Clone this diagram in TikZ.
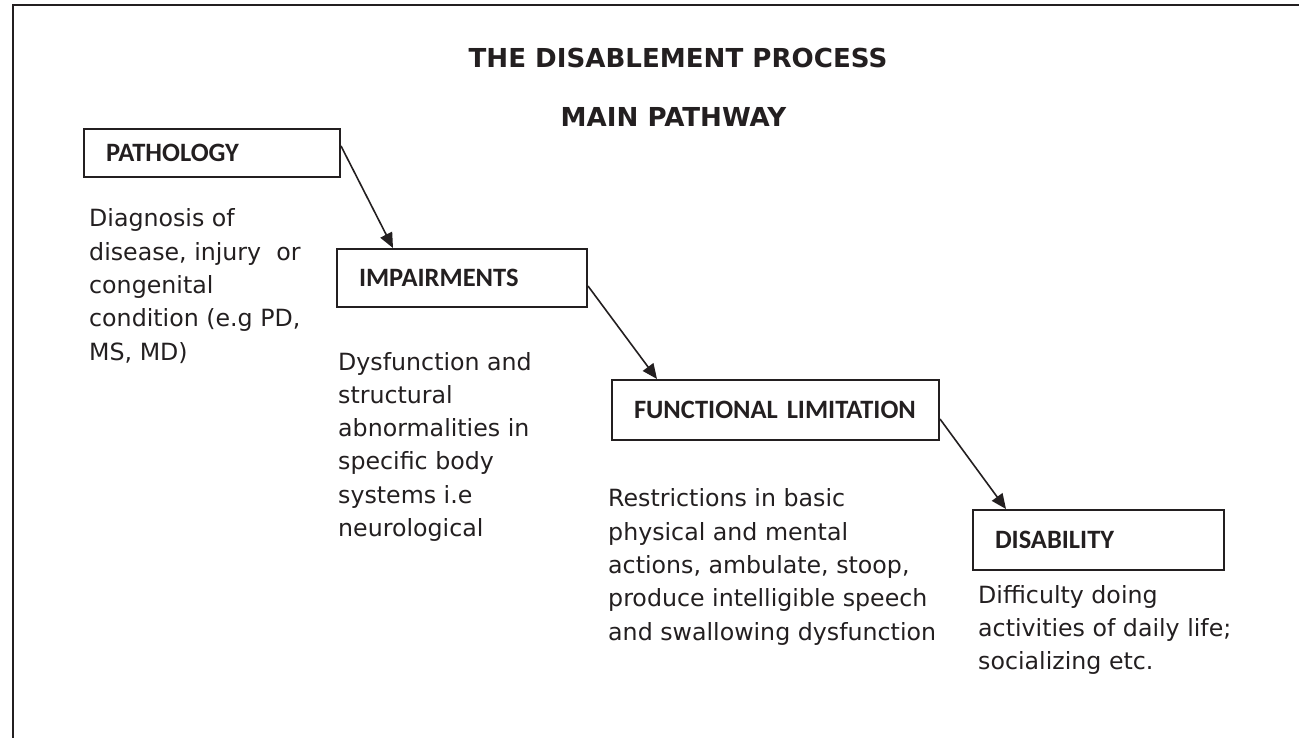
\documentclass[tikz,border=0pt]{standalone}
\usepackage{fontspec}
\setmainfont{DejaVu Sans}
\newfontfamily\boxfont{Carlito}
\usetikzlibrary{arrows.meta}

\begin{document}
\begin{tikzpicture}[x=1pt, y=-1pt,
  stage/.style={draw=ink, line width=2pt, anchor=north west, inner xsep=22pt, inner ysep=0pt,
    align=left, text=ink, font=\boxfont\bfseries\fontsize{26.5}{30}\selectfont},
  note/.style={anchor=base west, inner sep=0pt, align=left, text=ink,
    font=\fontsize{23.7}{33.3}\selectfont},
  heading/.style={anchor=base, inner sep=0pt, text=ink, font=\bfseries\fontsize{26.1}{30}\selectfont},
  link/.style={draw=ink, line width=1.6pt, -{Triangle[length=15pt, width=13pt]}}]
\definecolor{ink}{HTML}{231F20}
\useasboundingbox (0,0) rectangle (1299,738);
% frame
\draw[ink, line width=2pt] (13,738) -- (13,5) -- (1299,5);
% titles
\node[heading] (title) at (678,68) {THE DISABLEMENT PROCESS};
\node[heading] (sub) at (673.5,127) {MAIN PATHWAY};
% stages
\node[stage, text width=212pt, minimum height=48pt] (path) at (83,128) {\mbox{PATHOLOGY}};
\node[stage, text width=206pt, minimum height=58pt] (imp) at (336,248) {\mbox{IMPAIRMENTS}};
\node[stage, text width=283pt, minimum height=60pt] (func) at (611,379) {\mbox{FUNCTIONAL LIMITATION}};
\node[stage, text width=207pt, minimum height=60pt] (dis) at (972,509) {\mbox{DISABILITY}};
% notes (placed at the baseline of their last line)
\node[note] (pathnote) at (89,360) {Diagnosis of\\disease, injury\ \ or\\congenital\\condition (e.g PD,\\MS, MD)};
\node[note] (impnote) at (338,536.5) {Dysfunction and\\structural\\abnormalities in\\specific body\\systems i.e\\neurological};
\node[note] (funcnote) at (608,640) {Restrictions in basic\\physical and mental\\actions, ambulate, stoop,\\produce intelligible speech\\and swallowing dysfunction};
\node[note] (disnote) at (978,669.6) {Difficulty doing\\activities of daily life;\\socializing etc.};
% pathway
\draw[link] ([yshift=7pt]path.east) -- ([xshift=57pt]imp.north west);
\draw[link] ([yshift=-8pt]imp.east) -- ([xshift=46pt]func.north west);
\draw[link] ([yshift=-9pt]func.east) -- ([xshift=34pt]dis.north west);
\end{tikzpicture}
\end{document}
